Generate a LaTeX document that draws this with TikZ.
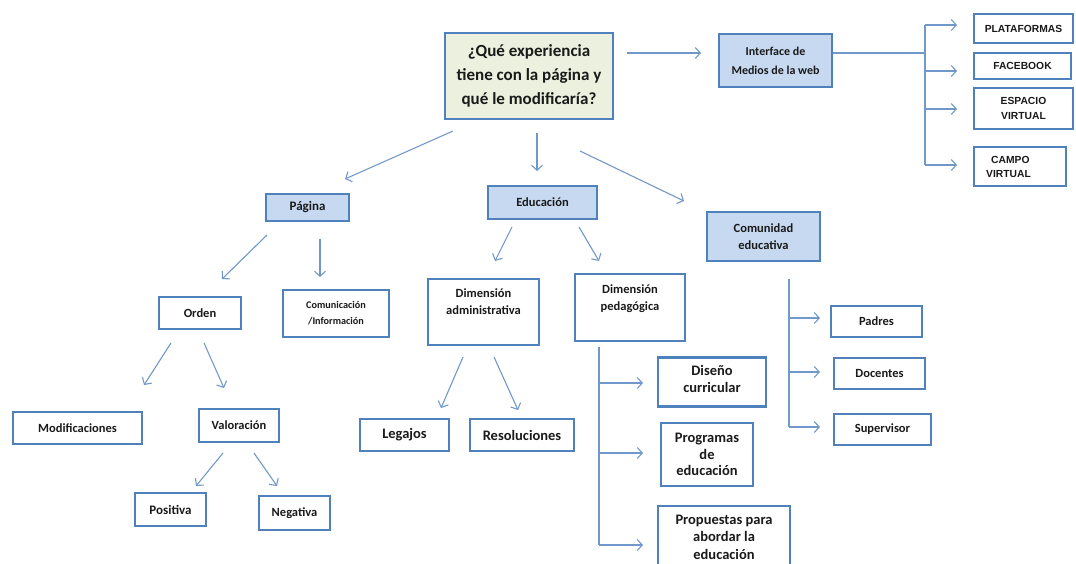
\documentclass[tikz,border=0pt]{standalone}
\usepackage{fontspec}
\setmainfont{Carlito}
\newfontfamily\arialfont{Liberation Sans}
\usetikzlibrary{arrows.meta}
\definecolor{bordc}{HTML}{4F81BD}
\definecolor{linec}{HTML}{7198CA}
\definecolor{greenf}{HTML}{EBF1DE}
\definecolor{bluef}{HTML}{C6D9F1}
\definecolor{txtc}{HTML}{1A1A1A}
\tikzset{
  box/.style={draw=bordc, line width=2.8pt, fill=white, inner sep=0pt, align=center, font=\bfseries\fontsize{12.5}{17}\selectfont, text=txtc},
  bigtxt/.style={font=\bfseries\fontsize{14.5}{17}\selectfont},
  bbox/.style={box, fill=bluef},
  gbox/.style={box, fill=greenf},
  capsbox/.style={box, font=\arialfont\bfseries\fontsize{10.3}{15}\selectfont},
  txt/.style={inner sep=0pt, align=center, font=\bfseries\fontsize{12.5}{17}\selectfont, text=txtc},
  conn/.style={draw=linec, line width=1.1pt, -{Straight Barb[length=5pt,width=11pt,line width=1.1pt]}},
  plain/.style={draw=linec, line width=1.1pt},
}
\begin{document}
\begin{tikzpicture}[x=1pt,y=-1pt]
\useasboundingbox (0,0) rectangle (1076,563);
% main
\node[gbox, minimum width=168, minimum height=86, font=\bfseries\fontsize{17}{24}\selectfont] (main) at (529,76) {¿Qué experiencia\\tiene con la página y\\qué le modificaría?};
\node[bbox, minimum width=113, minimum height=53, font=\bfseries\fontsize{12}{19}\selectfont] (iface) at (775.5,60.5) {Interface de\\Medios de la web};
% right column
\node[capsbox, minimum width=99, minimum height=29] (plat) at (1023.5,28.5) {PLATAFORMAS};
\node[capsbox, minimum width=97, minimum height=26] (face) at (1022.5,66) {FACEBOOK};
\node[capsbox, minimum width=99, minimum height=41] (esp) at (1023.5,108.5) {ESPACIO\\VIRTUAL};
\node[capsbox, minimum width=92, minimum height=39] (campo) at (1020,166.5) {};
\node[txt, font=\arialfont\bfseries\fontsize{10.3}{14}\selectfont, align=left, anchor=west] (campot) at (986,166.5) {\hspace{5pt}CAMPO\\VIRTUAL};
% level 2
\node[bbox, minimum width=83, minimum height=27, font=\bfseries\fontsize{13}{17}\selectfont] (pag) at (307.5,207.5) {Página};
\node[bbox, minimum width=109, minimum height=33] (edu) at (542.5,202.5) {Educación};
\node[bbox, minimum width=113, minimum height=49] (com) at (763.5,236.5) {Comunidad\\educativa};
% level 3
\node[box, minimum width=82, minimum height=32] (orden) at (200,313) {Orden};
\node[box, minimum width=106, minimum height=47, font=\bfseries\fontsize{10.2}{16}\selectfont] (comu) at (336,313.5) {Comunicación\\/Información};
\node[box, minimum width=111, minimum height=66] (dadm) at (483.5,312) {};
\node[txt] (dadmt) at (483.5,302) {Dimensión\\administrativa};
\node[box, minimum width=110, minimum height=67] (dped) at (630,307.5) {};
\node[txt] (dpedt) at (630,299) {Dimensión\\pedagógica};
% level 4
\node[box, minimum width=129, minimum height=32] (modi) at (77.5,428) {Modificaciones};
\node[box, minimum width=80, minimum height=33] (valo) at (239,425.5) {Valoración};
\node[box, minimum width=71, minimum height=33, font=\bfseries\fontsize{13}{17}\selectfont] (posi) at (170.5,509.5) {Positiva};
\node[box, minimum width=71, minimum height=34] (nega) at (294.5,513) {Negativa};
\node[box, bigtxt, minimum width=89, minimum height=32] (lega) at (404.5,435) {Legajos};
\node[box, bigtxt, minimum width=104, minimum height=32] (reso) at (522,435) {Resoluciones};
\node[box, minimum width=108, minimum height=49] (dise) at (712,382) {};
\node[txt, bigtxt] (diset) at (712,379) {Diseño\\curricular};
\node[box, minimum width=92, minimum height=63, font=\bfseries\fontsize{14.5}{16.5}\selectfont] (prog) at (707,454.5) {Programas\\de\\educación};
\node[box, minimum width=132, minimum height=62, font=\bfseries\fontsize{14.5}{17.5}\selectfont] (prop) at (724,537) {Propuestas para\\abordar la\\educación};
\node[box, minimum width=91, minimum height=31] (padr) at (876.5,321.5) {Padres};
\node[box, minimum width=91, minimum height=31] (doce) at (879.5,373.5) {Docentes};
\node[box, minimum width=97, minimum height=31] (supe) at (882.5,429.5) {Supervisor};
% helper coordinates
\coordinate (mA) at (627,53); \coordinate (mB) at (701,53);
\coordinate (r0) at (925,53);
\coordinate (rT) at (925,25); \coordinate (rB) at (925,165);
\coordinate (pl) at (957,25); \coordinate (fb) at (957,71); \coordinate (ev) at (957,109); \coordinate (cv) at (957,165);
\coordinate (m1) at (453,131); \coordinate (p1) at (345,179);
\coordinate (m2) at (537,133); \coordinate (e1) at (537,171);
\coordinate (m3) at (580,151); \coordinate (c1) at (684,201);
\coordinate (g1) at (267,235); \coordinate (o1) at (222,279);
\coordinate (g2) at (320,239); \coordinate (cm1) at (320,277);
\coordinate (o2) at (171,343); \coordinate (mo1) at (144,385);
\coordinate (o3) at (204,343); \coordinate (va1) at (224,388);
\coordinate (v1) at (223,453); \coordinate (po1) at (196,486);
\coordinate (v2) at (254,453); \coordinate (ne1) at (277,486);
\coordinate (ed1) at (512,227); \coordinate (da1) at (495,261);
\coordinate (ed2) at (579,227); \coordinate (dp1) at (599,261);
\coordinate (a1) at (463,357); \coordinate (l1) at (441,408);
\coordinate (a2) at (494,357); \coordinate (rs1) at (518,410);
\coordinate (pT) at (599,347); \coordinate (pB) at (599,545);
\coordinate (pd) at (599,383); \coordinate (pp) at (599,453);
\coordinate (pdT) at (643,383); \coordinate (ppT) at (643,453); \coordinate (pbT) at (643,545);
\coordinate (cT) at (789,279); \coordinate (cB) at (789,427);
\coordinate (c2) at (789,318); \coordinate (c3) at (789,372);
\coordinate (c2T) at (820,318); \coordinate (c3T) at (820,372); \coordinate (cBT) at (820,427);
\coordinate (fbS) at (925,71); \coordinate (evS) at (925,109);
% connectors
\draw[conn] (mA) -- (mB);
\draw[plain] (iface.east |- r0) -- (r0);
\draw[plain] (rT) -- (rB);
\draw[conn] (rT) -- (pl);
\draw[conn] (fbS) -- (fb);
\draw[conn] (evS) -- (ev);
\draw[conn] (rB) -- (cv);
\draw[conn] (m1) -- (p1);
\draw[conn] (m2) -- (e1);
\draw[conn] (m3) -- (c1);
\draw[conn] (g1) -- (o1);
\draw[conn] (g2) -- (cm1);
\draw[conn] (o2) -- (mo1);
\draw[conn] (o3) -- (va1);
\draw[conn] (v1) -- (po1);
\draw[conn] (v2) -- (ne1);
\draw[conn] (ed1) -- (da1);
\draw[conn] (ed2) -- (dp1);
\draw[conn] (a1) -- (l1);
\draw[conn] (a2) -- (rs1);
\draw[plain] (pT) -- (pB);
\draw[conn] (pd) -- (pdT);
\draw[conn] (pp) -- (ppT);
\draw[conn] (pB) -- (pbT);
\draw[plain] (cT) -- (cB);
\draw[conn] (c2) -- (c2T);
\draw[conn] (c3) -- (c3T);
\draw[conn] (cB) -- (cBT);
\end{tikzpicture}
\end{document}
